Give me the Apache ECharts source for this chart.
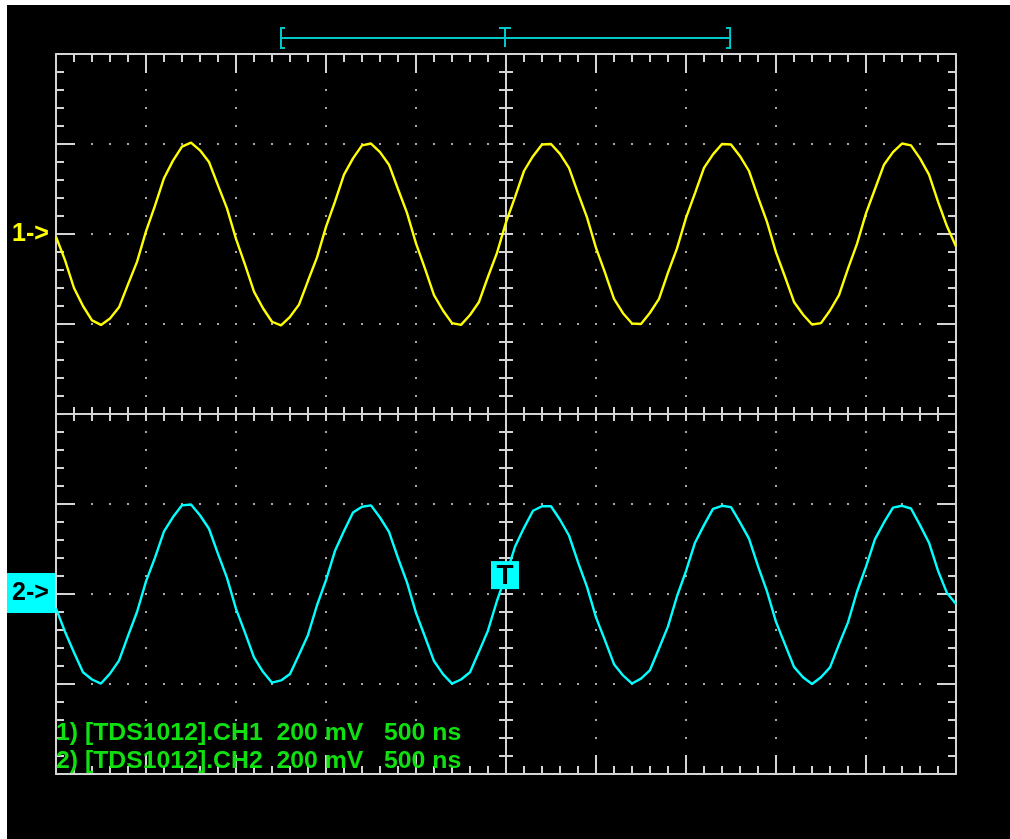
<!DOCTYPE html>
<html><head><meta charset="utf-8">
<script src="https://cdn.jsdelivr.net/npm/echarts@6/dist/echarts.min.js"></script>
<style>
html,body{margin:0;padding:0;background:#fff;width:1010px;height:839px;overflow:hidden}
#c{position:absolute;left:7px;top:5px;width:1003px;height:834px}
</style></head>
<body><div id="c"></div>
<script>
// ---- data ----
const sampleStartNs = -2500;
const sampleStepNs = 50;
const ch1mV = [
  -6, -58, -120, -160, -192, -202, -188, -163, -112, -62,
  6, 63, 124, 163, 194, 203, 186, 160, 108, 57,
  -11, -68, -128, -165, -195, -203, -184, -157, -104, -52,
  16, 72, 132, 168, 197, 201, 182, 154, 100, 47,
  -21, -77, -136, -170, -198, -202, -180, -151, -95, -42,
  26, 82, 140, 173, 199, 200, 178, 147, 91, 37,
  -31, -86, -144, -176, -199, -200, -175, -144, -86, -32,
  36, 91, 147, 177, 200, 199, 173, 140, 82, 27,
  -41, -95, -151, -179, -201, -198, -170, -136, -77, -22,
  46, 100, 154, 182, 201, 197, 168, 132, 72, 17,
  -28
];
const ch2mV = [
  -32, -84, -130, -174, -190, -199, -177, -148, -93, -40,
  28, 81, 139, 171, 197, 199, 175, 145, 89, 36,
  -33, -86, -141, -173, -197, -192, -178, -135, -91, -25,
  31, 96, 140, 181, 194, 197, 170, 138, 80, 26,
  -42, -95, -149, -178, -199, -190, -174, -128, -81, -15,
  42, 105, 147, 185, 195, 195, 165, 130, 71, 16,
  -52, -103, -156, -181, -199, -188, -169, -121, -72, -5,
  51, 114, 153, 189, 196, 193, 159, 123, 62, 6,
  -62, -112, -162, -185, -200, -185, -163, -112, -63, 5,
  61, 122, 159, 192, 196, 190, 153, 114, 52, 2,
  -22
];
const voltsPerDivMv = 200;
const timePerDivNs = 500;
const ch1OffsetDiv = 2;
const ch2OffsetDiv = -2;
const triggerLevelMv = 42;
const channelLabels = ['1->', '2->'];
const infoLines = [
  '1) [TDS1012].CH1  200 mV   500 ns',
  '2) [TDS1012].CH2  200 mV   500 ns'
];

// ---- styling ----
const LINE = '#d4d4d4', DOT = '#a8a8a8';
const YELLOW = '#ffff00', CYAN = '#00ffff', BRACKET = '#00c8c8', GREEN = '#10e010';
const X_MIN = -5 * timePerDivNs, X_MAX = 5 * timePerDivNs;

function axisBase(extra) {
  const o = {
    type: 'value', axisLabel: { show: false }, splitLine: { show: false },
    axisLine: { show: true, onZero: false, lineStyle: { color: LINE, width: 2 } },
    axisTick: { show: true, inside: true, length: 19, lineStyle: { color: LINE, width: 2 } },
    minorTick: { show: true, splitNumber: 5, length: 8, lineStyle: { color: LINE, width: 2 } },
    minorSplitLine: { show: false }
  };
  return Object.assign(o, extra);
}
const dotted = { show: true, lineStyle: { color: DOT, width: 2, type: [2, 16], dashOffset: 1 } };
const centerLine = (inside) => ({
  axisLine: { show: true, onZero: true, onZeroAxisIndex: 0, lineStyle: { color: LINE, width: 2 } },
  axisTick: { show: true, inside: inside, length: 7, lineStyle: { color: LINE, width: 2 } },
  minorTick: { show: true, splitNumber: 5, length: 7, lineStyle: { color: LINE, width: 2 } }
});
const xr = { min: X_MIN, max: X_MAX, interval: timePerDivNs };
const yr = { min: -4, max: 4, interval: 1 };

const toSeries = (arr, off) => arr.map((v, i) => [sampleStartNs + i * sampleStepNs, v / voltsPerDivMv + off]);

const chart = echarts.init(document.getElementById('c'), null, { renderer: 'canvas' });
chart.setOption({
  backgroundColor: '#000',
  animation: false,
  grid: { left: 49, top: 49, width: 900, height: 720, outerBoundsMode: 'none', containLabel: false },
  xAxis: [
    axisBase(Object.assign({ position: 'bottom', splitLine: dotted }, xr)),
    axisBase(Object.assign({ position: 'top' }, xr)),
    axisBase(Object.assign({ position: 'bottom' }, xr, centerLine(true))),
    axisBase(Object.assign({ position: 'bottom' }, xr, centerLine(false)))
  ],
  yAxis: [
    axisBase(Object.assign({ position: 'left', splitLine: dotted }, yr)),
    axisBase(Object.assign({ position: 'right' }, yr)),
    axisBase(Object.assign({ position: 'left' }, yr, centerLine(true))),
    axisBase(Object.assign({ position: 'left' }, yr, centerLine(false)))
  ],
  series: [
    { type: 'line', name: 'CH1', xAxisIndex: 0, yAxisIndex: 0, data: toSeries(ch1mV, ch1OffsetDiv),
      symbol: 'none', showSymbol: false, lineStyle: { color: YELLOW, width: 2.4 }, itemStyle: { color: YELLOW }, z: 5 },
    { type: 'line', name: 'CH2', xAxisIndex: 0, yAxisIndex: 0, data: toSeries(ch2mV, ch2OffsetDiv),
      symbol: 'none', showSymbol: false, lineStyle: { color: CYAN, width: 2.4 }, itemStyle: { color: CYAN }, z: 5 }
  ]
});

const px = (t, d) => chart.convertToPixel({ xAxisIndex: 0, yAxisIndex: 0 }, [t, d]);
const tl = px(X_MIN, 4), br = px(X_MAX, -4);
const gW = br[0] - tl[0];
const c1 = px(0, ch1OffsetDiv), c2 = px(0, ch2OffsetDiv);
const trig = px(0, ch2OffsetDiv + triggerLevelMv / voltsPerDivMv);
const bY = tl[1] - 16, bL = tl[0] + 0.25 * gW, bR = tl[0] + 0.749 * gW, bT = px(0, 0)[0] - 1;
const FONT = '"Liberation Sans", Arial, sans-serif';

chart.setOption({
  graphic: [
    { type: 'text', x: 5, y: c1[1], z: 20, style: { text: channelLabels[0], fill: YELLOW, font: 'bold 25px ' + FONT, verticalAlign: 'middle' } },
    { type: 'rect', shape: { x: 0, y: c2[1] - 21, width: tl[0] - 1, height: 40 }, style: { fill: CYAN }, z: 20 },
    { type: 'text', x: 5, y: c2[1] - 1, z: 21, style: { text: channelLabels[1], fill: '#000', font: 'bold 25px ' + FONT, verticalAlign: 'middle' } },
    { type: 'rect', shape: { x: trig[0] - 15, y: trig[1] - 14, width: 28, height: 28 }, style: { fill: CYAN }, z: 20 },
    { type: 'text', x: trig[0] - 1, y: trig[1] + 1, z: 21, style: { text: 'T', fill: '#000', font: 'bold 28px ' + FONT, align: 'center', verticalAlign: 'middle' } },
    { type: 'polyline', z: 20, shape: { points: [[bL + 4, bY - 10], [bL, bY - 10], [bL, bY + 10], [bL + 4, bY + 10]] }, style: { stroke: BRACKET, lineWidth: 2, fill: null } },
    { type: 'polyline', z: 20, shape: { points: [[bR - 4, bY - 10], [bR, bY - 10], [bR, bY + 10], [bR - 4, bY + 10]] }, style: { stroke: BRACKET, lineWidth: 2, fill: null } },
    { type: 'line', z: 20, shape: { x1: bL, y1: bY, x2: bR, y2: bY }, style: { stroke: BRACKET, lineWidth: 2 } },
    { type: 'line', z: 20, shape: { x1: bT, y1: bY - 10, x2: bT, y2: bY + 9 }, style: { stroke: BRACKET, lineWidth: 2 } },
    { type: 'line', z: 20, shape: { x1: bT - 6, y1: bY - 10, x2: bT + 6, y2: bY - 10 }, style: { stroke: BRACKET, lineWidth: 2 } },
    { type: 'text', x: tl[0], y: 728, z: 30, style: { text: infoLines[0], fill: GREEN, font: 'bold 24.8px ' + FONT, verticalAlign: 'middle' } },
    { type: 'text', x: tl[0], y: 756, z: 30, style: { text: infoLines[1], fill: GREEN, font: 'bold 24.8px ' + FONT, verticalAlign: 'middle' } }
  ]
});
</script>
</body></html>
